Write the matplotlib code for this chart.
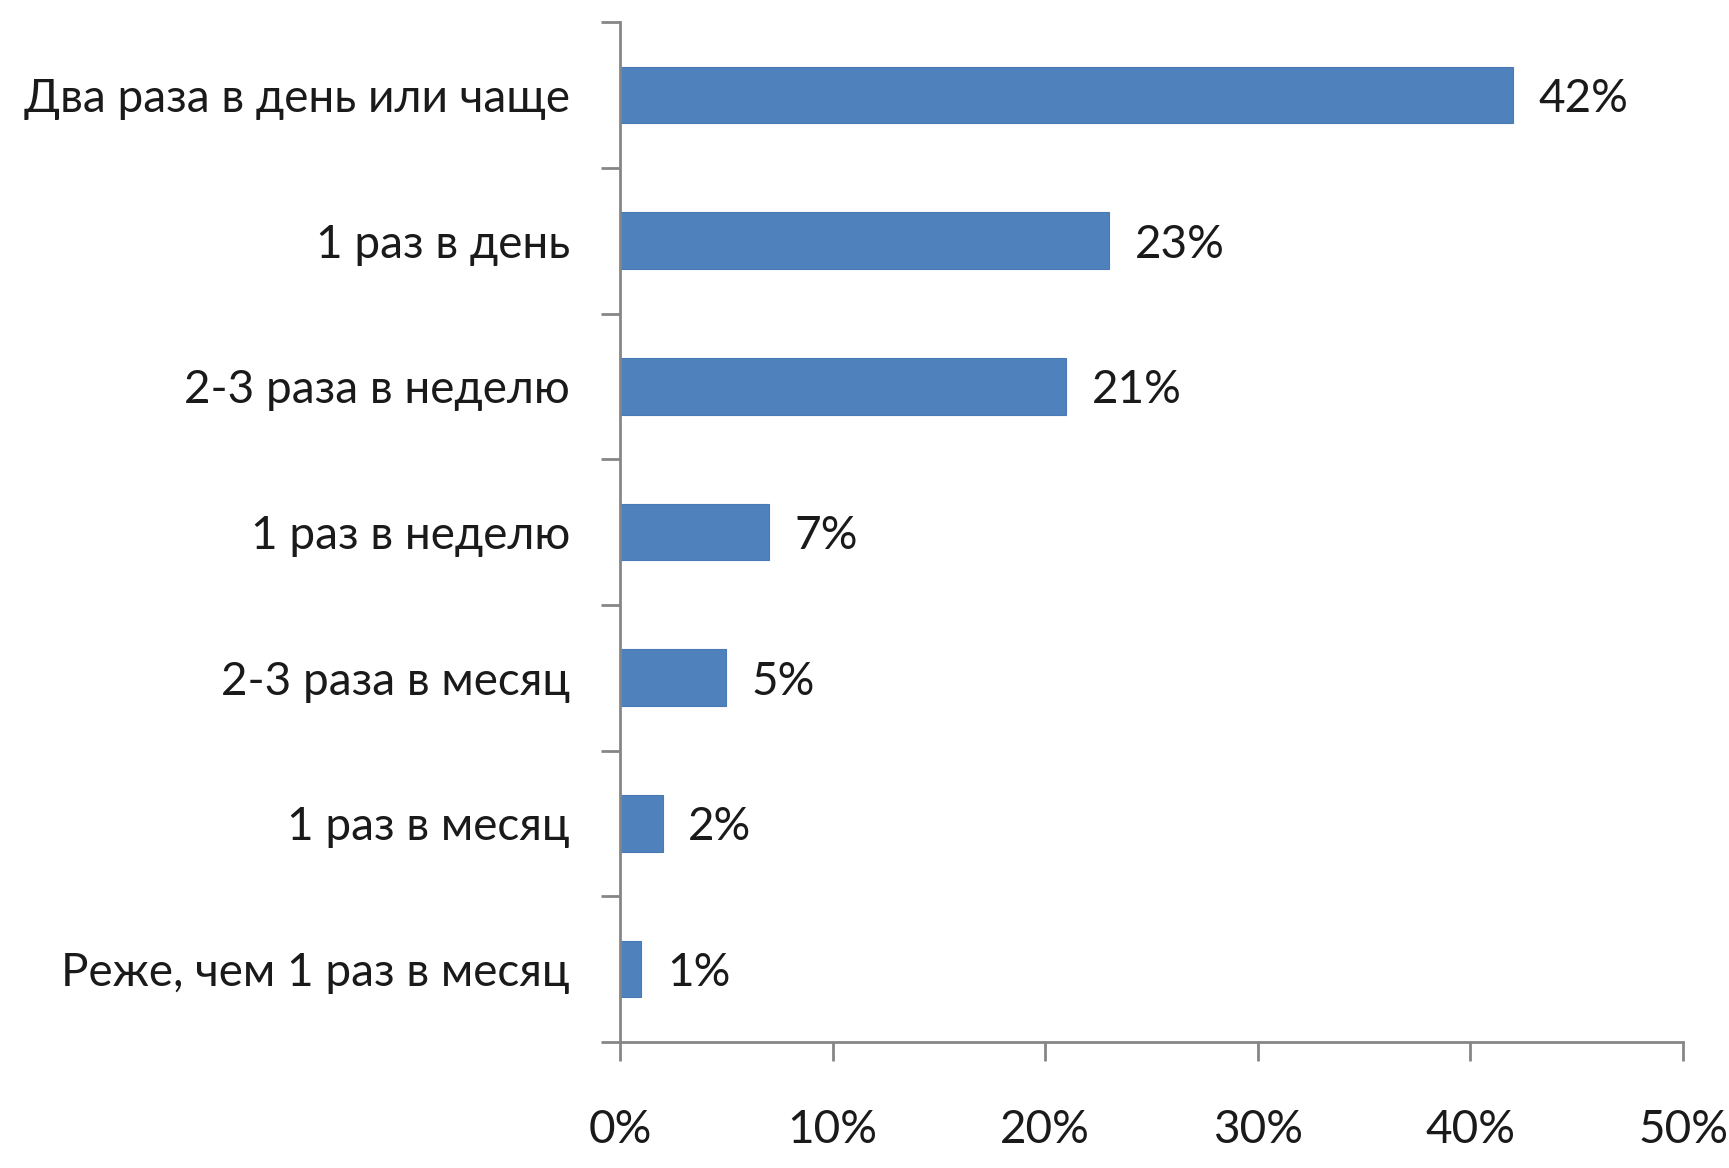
import matplotlib.pyplot as plt
import numpy as np

# данные
categories = ['Два раза в день или чаще', '1 раз в день', '2-3 раза в неделю',
              '1 раз в неделю', '2-3 раза в месяц', '1 раз в месяц',
              'Реже, чем 1 раз в месяц']
values = [42, 23, 21, 7, 5, 2, 1]
xticks = [0, 10, 20, 30, 40, 50]

plt.rcParams['font.family'] = ['Lato', 'DejaVu Sans']
fs = 33

fig = plt.figure(figsize=(17.29, 11.68), dpi=100)
ax = fig.add_axes([0.3586, 0.108, 0.9734 - 0.3586, 0.981 - 0.108])

y = np.arange(len(categories))
ax.barh(y, values, height=0.39, color='#4f81bd', edgecolor='#4a7ab5', linewidth=0.8)

for i, v in enumerate(values):
    ax.text(v + 1.2, i, str(v) + '%', va='center_baseline', ha='left', fontsize=fs, color='#1a1a1a')

ax.set_ylim(len(categories) - 0.5, -0.5)
ax.set_xlim(0, 50)

ax.set_yticks(y)
ax.set_yticklabels(categories, fontsize=fs, color='#1a1a1a')
ax.set_yticks(np.arange(len(categories) + 1) - 0.5, minor=True)
ax.tick_params(axis='y', which='major', length=0, pad=36)
ax.tick_params(axis='y', which='minor', length=14, width=2, color='#868686')

ax.set_xticks(xticks)
ax.set_xticklabels([str(t) + '%' for t in xticks], fontsize=fs, color='#1a1a1a')
ax.tick_params(axis='x', which='major', length=14, width=2, color='#868686', pad=34)

for s in ['top', 'right']:
    ax.spines[s].set_visible(False)
for s in ['left', 'bottom']:
    ax.spines[s].set_color('#868686')
    ax.spines[s].set_linewidth(2)

plt.savefig('out.png', dpi=100)
